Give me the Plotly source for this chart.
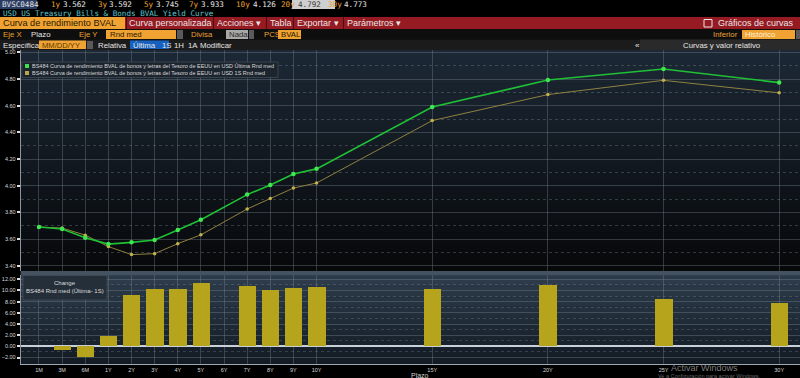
import plotly.graph_objects as go

W, H = 800, 378

# ---------------- data ----------------
tenors = ["1M", "3M", "6M", "1Y", "2Y", "3Y", "4Y", "5Y", "7Y", "8Y", "9Y", "10Y", "15Y", "20Y", "25Y", "30Y"]
yield_last = [3.690, 3.675, 3.610, 3.562, 3.575, 3.592, 3.667, 3.745, 3.933, 4.005, 4.087, 4.126, 4.590, 4.792, 4.875, 4.773]
yield_1w = [3.690, 3.682, 3.629, 3.543, 3.483, 3.490, 3.565, 3.631, 3.825, 3.904, 3.982, 4.020, 4.488, 4.683, 4.790, 4.696]
change_bp = [0.0, -0.7, -1.9, 1.85, 9.2, 10.2, 10.2, 11.4, 10.8, 10.1, 10.5, 10.6, 10.2, 10.9, 8.5, 7.7]
tick_labels = ["1M", "3M", "6M", "1Y", "2Y", "3Y", "4Y", "5Y", "6Y", "7Y", "8Y", "9Y", "10Y", "15Y", "20Y", "25Y", "30Y"]

header_quotes = [("1y", "3.562"), ("3y", "3.592"), ("5y", "3.745"), ("7y", "3.933"),
                 ("10y", "4.126"), ("20y", "4.792"), ("30y", "4.773")]

# sub-year tenors occupy evenly spaced slots before 1Y, years are linear after
SUB_YEAR_SLOTS = {"1M": -2, "3M": -1, "6M": 0}


def axis_pos(label):
    if label.endswith("Y"):
        return int(label[:-1])
    return SUB_YEAR_SLOTS[label]


x_data = [axis_pos(t) for t in tenors]
x_ticks = [axis_pos(t) for t in tick_labels]

SANS = "Liberation Sans"
MONO = "DejaVu Sans Mono"
ORANGE = "#e8a030"
WHITE = "#e6e6e6"

shapes = []
annotations = []


def px(x):
    return x / W


def py(y):
    return 1 - y / H


def box(x0, y0, x1, y1, color, line_color=None, lw=0, layer="below"):
    shapes.append(dict(type="rect", xref="paper", yref="paper",
                       x0=px(x0), x1=px(x1), y0=py(y1), y1=py(y0),
                       fillcolor=color,
                       line=dict(width=lw, color=line_color or color), layer=layer))


def label(x, y, text, color=WHITE, size=8, family=SANS, anchor="left"):
    annotations.append(dict(x=px(x), y=py(y), xref="paper", yref="paper", text=text,
                            showarrow=False, xanchor=anchor, yanchor="middle",
                            font=dict(color=color, size=size, family=family), borderpad=0))


def hex2rgb(h):
    h = h.lstrip("#")
    return [int(h[i:i + 2], 16) for i in (0, 2, 4)]


def gradient(x0, y0, x1, y1, c_top, c_bot, n=40):
    a, b = hex2rgb(c_top), hex2rgb(c_bot)
    for i in range(n):
        t = i / (n - 1)
        c = "rgb(%d,%d,%d)" % tuple(round(a[k] + (b[k] - a[k]) * t) for k in range(3))
        ya = y0 + (y1 - y0) * i / n
        yb = y0 + (y1 - y0) * (i + 1) / n + 0.6
        box(x0, ya, x1, min(yb, y1), c)


# ---------------- plot geometry ----------------
AX_X = 20.7
UP_TOP, UP_BOT = 50, 271
LO_TOP, LO_BOT = 275, 364

gradient(AX_X, UP_TOP, W, UP_BOT, "#1c2835", "#07080a")
gradient(AX_X, LO_TOP, W, LO_BOT, "#2e3d4c", "#131b24")
box(AX_X, UP_BOT, W, LO_TOP, "#45525f")

# ---------------- header ----------------
# row 1
box(0, 0, 37, 9, "#2b3c62")
label(1, 4.5, "BVSC0484", WHITE, 7.6, MONO)
qx = [(50, 62), (97, 108), (143, 155), (188, 200), (235, 252), (280, 297), (327, 343)]
box(292, 0, 335, 9, "#cfcfcf")
for (t, v), (xa, xb) in zip(header_quotes, qx):
    label(xa, 4.5, t, ORANGE, 7.6, MONO)
    label(xb, 4.5, v, "#3a3a3a" if t == "20y" else WHITE, 7.6, MONO)
# row 2
label(2, 13, "USD US Treasury Bills &amp; Bonds BVAL Yield Curve", "#5cc4cc", 7.6, MONO)
# row 3: red toolbar
box(0, 17, W, 29, "#961a22")
box(0, 17, 125, 29, "#f0a232")
label(2, 23, "Curva de rendimiento BVAL", "#2a1800", 9.2)
tabs = [(128, "Curva personalizada"), (216, "Acciones \u25be"), (269, "Tabla"),
        (296, "Exportar \u25be"), (346, "Par\u00e1metros \u25be")]
for tx, tt in tabs:
    label(tx, 23, tt, WHITE, 9)
for sx in (126, 213, 266, 293, 343):
    box(sx, 17, sx + 1, 29, "#4a0c10")
box(704, 19.5, 712, 27, "#961a22", "#e8e8e8", 1)
label(717, 23, "Gr\u00e1ficos de curvas", WHITE, 9)
# row 4
box(0, 29, W, 39.5, "#0e0e0e")
label(2, 34.5, "Eje X", ORANGE, 7.8)
label(30, 34.5, "Plazo", WHITE, 7.8)
label(78, 34.5, "Eje Y", ORANGE, 7.8)
box(106, 30, 176, 39, "#f0a232")
label(109, 34.5, "Rnd med", "#2a1800", 7.8)
box(177, 30, 183, 39, "#5a5a5a")
label(190, 34.5, "Divisa", ORANGE, 7.8)
box(226, 30, 248, 39, "#a8a8a8")
label(228, 34.5, "Nada", "#2a2a2a", 7.8)
box(249, 30, 254, 39, "#5a5a5a")
label(263, 34.5, "PCS", ORANGE, 7.8)
box(278, 30, 301, 39, "#f0a232")
label(280, 34.5, "BVAL", "#2a1800", 7.8)
label(712, 34.5, "Inferior", ORANGE, 7.8)
box(742, 30, 795, 39, "#f0a232")
label(744, 34.5, "Hist\u00f3rico", "#fff2dc", 7.8)
box(796, 30, 800, 39, "#5a5a5a")
# row 5
box(0, 39.5, W, 50, "#1b1b1b")
label(2, 45, "Espec\u00edfica", WHITE, 7.8)
box(39, 40.5, 86, 49, "#f0a232")
label(41, 45, "MM/DD/YY", "#5a3a00", 7.6)
box(87, 41, 93, 49, "#5a5a5a")
label(97, 45, "Relativa", WHITE, 7.8)
box(130, 40.5, 169, 49, "#1660c0")
label(132, 45, "\u00daltima", WHITE, 7.8)
label(161, 45, "1S", WHITE, 7.8)
label(173, 45, "1H", WHITE, 7.8)
label(187, 45, "1A", WHITE, 7.8)
label(199, 45, "Modificar", WHITE, 7.8)
box(640, 39.5, W, 50, "#2a2a2a")
label(634, 45, "\u00ab", WHITE, 8)
label(722, 45, "Curvas y valor relativo", WHITE, 7.8, anchor="center")

# ---------------- legends ----------------
box(22, 62, 278, 77.5, "rgba(28,36,46,0.92)", "#4e5862", 0.6, layer="above")
box(25, 64, 29, 68, "#3ee04c", layer="above")
box(25, 71, 29, 75, "#b8a848", layer="above")
label(31, 66, "BS484 Curva de rendimiento BVAL de bonos y letras del Tesoro de EEUU en USD \u00daltima Rnd med", "#d8d8d8", 5.5)
label(31, 73, "BS484 Curva de rendimiento BVAL de bonos y letras del Tesoro de EEUU en USD 1S Rnd med", "#d8d8d8", 5.5)

box(23, 275.5, 107, 300, "rgba(36,46,57,0.95)", "#4e5862", 0.6, layer="above")
label(65, 283, "Change", "#dcdcdc", 6, anchor="center")
label(65, 291, "BS484 Rnd med (\u00daltima- 1S)", "#dcdcdc", 6, anchor="center")

# bottom texts
label(410, 375.5, "Plazo", "#cfcfcf", 7)
label(670, 367.5, "Activar Windows", "rgba(170,170,170,0.75)", 9)
label(657, 376, "Ve a Configuraci\u00f3n para activar Windows.", "rgba(150,150,150,0.7)", 5.5)

# ---------------- traces ----------------
fig = go.Figure()
fig.add_trace(go.Scatter(x=x_data, y=yield_1w, mode="lines+markers",
                         line=dict(color="#8f8240", width=1),
                         marker=dict(color="#c2b24e", size=3.5),
                         xaxis="x", yaxis="y", name="1S"))
fig.add_trace(go.Scatter(x=x_data, y=yield_last, mode="lines+markers",
                         line=dict(color="#1fc036", width=1.6),
                         marker=dict(color="#40e650", size=4.5),
                         xaxis="x", yaxis="y", name="\u00daltima"))
fig.add_trace(go.Bar(x=x_data, y=change_bp, width=0.75,
                     marker=dict(color="#b6a51c", line=dict(width=0)),
                     xaxis="x2", yaxis="y2", name="Change"))

GRID = "rgba(130,142,155,0.35)"
XR = [-2.79, 30.9]
fig.update_layout(
    width=W, height=H, margin=dict(l=0, r=0, t=0, b=0),
    paper_bgcolor="#000000", plot_bgcolor="rgba(0,0,0,0)",
    showlegend=False, bargap=0,
    xaxis=dict(domain=[px(AX_X), 1], range=XR, tickvals=x_ticks, showticklabels=False,
               showgrid=True, gridcolor=GRID, gridwidth=1, zeroline=False, anchor="y"),
    yaxis=dict(domain=[py(UP_BOT), py(UP_TOP)], range=[3.36, 5.0175], dtick=0.2, tick0=0,
               tickformat=".2f", ticks="outside", ticklen=3, tickwidth=1.5, tickcolor="#e0e0e0",
               tickfont=dict(size=5.5, color="#d8d8d8", family=SANS),
               showline=True, linecolor="#8a96a2", linewidth=1,
               showgrid=True, gridcolor=GRID, zeroline=False,
               minor=dict(dtick=0.1, tick0=0, showgrid=True, griddash="dot",
                          gridcolor="rgba(130,142,155,0.35)", ticks=""), anchor="x"),
    xaxis2=dict(domain=[px(AX_X), 1], range=XR, tickvals=x_ticks, ticktext=tick_labels,
                tickfont=dict(size=5.5, color="#d8d8d8", family=SANS),
                showgrid=True, gridcolor=GRID, zeroline=False,
                showline=True, linecolor="#a0a8b0", linewidth=1, ticks="", anchor="y2"),
    yaxis2=dict(domain=[py(LO_BOT), py(LO_TOP)], range=[-3.16, 12.77], dtick=2, tick0=0,
                tickformat=".2f", ticks="outside", ticklen=3, tickwidth=1.5, tickcolor="#e0e0e0",
                tickfont=dict(size=5.5, color="#d8d8d8", family=SANS),
                showline=True, linecolor="#8a96a2", linewidth=1,
                showgrid=True, gridcolor=GRID, zeroline=True, zerolinecolor="#c8d0d8",
                zerolinewidth=1.5,
                minor=dict(dtick=1, tick0=0, showgrid=True, griddash="dot",
                           gridcolor="rgba(130,142,155,0.3)", ticks=""), anchor="x2"),
    shapes=shapes, annotations=annotations,
)

fig.write_html("out.html")
